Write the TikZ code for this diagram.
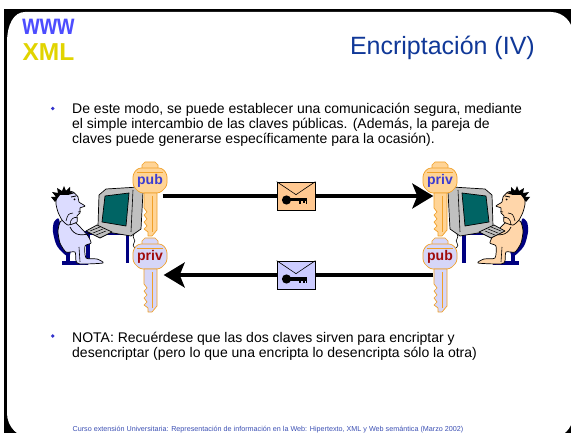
\documentclass[tikz,border=0pt]{standalone}
\usepackage{fontspec}
\setmainfont{Liberation Sans}
\usepackage{graphicx}
\usetikzlibrary{arrows.meta,calc}

\definecolor{titleblue}{RGB}{16,56,152}
\definecolor{bulletblue}{RGB}{51,51,204}
\definecolor{footblue}{RGB}{60,80,180}
\definecolor{logoblue}{RGB}{77,77,255}
\definecolor{logoyellow}{RGB}{225,212,0}
\definecolor{keyorange}{RGB}{255,212,150}
\definecolor{keyline}{RGB}{240,160,40}
\definecolor{keylilac}{RGB}{214,214,248}
\definecolor{pubblue}{RGB}{60,60,210}
\definecolor{privred}{RGB}{160,10,10}
\definecolor{envorange}{RGB}{255,200,145}
\definecolor{envlilac}{RGB}{204,204,255}
\definecolor{chairnavy}{RGB}{0,0,128}
\definecolor{screenteal}{RGB}{0,100,100}
\definecolor{monitorgray}{RGB}{192,192,192}
\definecolor{skinlilac}{RGB}{220,220,255}
\definecolor{skinpeach}{RGB}{255,214,170}

\tikzset{
  keypart/.style={draw=keyline, line width=0.7pt, line join=round},
  keyshaft/.style={inner sep=0pt, minimum width=14pt, minimum height=40pt},
  keylabel/.style={inner sep=0pt, font=\bfseries\fontsize{14}{14}\selectfont},
  envbox/.style={draw=black, line width=0.7pt, inner sep=0pt, minimum width=38pt, minimum height=28pt},
  msgarrow/.style={line width=3.5pt},
  bodyline/.style={font=\fontsize{14}{15}\selectfont, anchor=base west, inner sep=0pt},
  outline/.style={draw=black, line width=0.7pt, line join=round},
}

% a key: name of the shaft node, x, y of the top, fill, label, label colour
\newcommand\slidekey[6]{%
  \begin{scope}[shift={(#2,#3)}]
    \path[keypart, fill=#4] (-8,9) -- (-8,3) -- (-5,0) -- (5,0) -- (8,3) -- (8,9) -- cycle;
    \path[keypart, fill=#4, rounded corners=3pt] (-12,6) -- (12,6) -- (17,12) -- (17,24)
      -- (10,31) -- (-10,31) -- (-17,24) -- (-17,12) -- cycle;
    \path[keypart, fill=#4] (-6,31) -- (7,31) -- (7,68) -- (2,74) -- (-2,74) -- (-2,70)
      -- (-6,67) -- (-3,64) -- (-6,60) -- (-3,57) -- (-6,53) -- (-3,50) -- (-6,46) -- cycle;
    \draw[keyline, line width=0.6pt] (-13,10) -- (13,10);
    \draw[keyline, line width=0.6pt] (2,34) -- (2,70);
    \node[keyshaft] (#1) at (0.5,51) {};
    \node[keylabel, text=#6] at (0,19) {#5};
  \end{scope}}

% a sealed envelope with a key on it: name, x, y, fill
\newcommand\slideenvelope[4]{%
  \node[envbox, fill=#4] (#1) at (#2,#3) {};
  \draw[line width=0.6pt] (#1.north west) -- ($(#1.north)+(0,13)$) -- (#1.north east);
  \fill ($(#1.center)+(-9.5,4)$) circle (4.6pt);
  \fill ($(#1.center)+(-6,2.5)$) rectangle ($(#1.center)+(11,5.5)$);
  \fill ($(#1.center)+(3,5)$) rectangle ($(#1.center)+(5,8)$);
  \fill ($(#1.center)+(7,5)$) rectangle ($(#1.center)+(9,7.5)$);
  \fill ($(#1.center)+(10,5)$) rectangle ($(#1.center)+(11,8)$);
}

% desk, monitor and seated figure facing right: skin colour, shift of the figure
\newcommand\workstation[2]{%
  % desk
  \fill[chairnavy] (84,231) rectangle (130,235.5);
  \fill[chairnavy] (86,235) rectangle (89.5,263);
  \fill[chairnavy] (125.5,235) rectangle (129,263);
  \begin{scope}[xshift=#2]
    % chair
    \fill[chairnavy] plot[smooth cycle, tension=0.5] coordinates
      {(54,222) (59,219) (62,236) (71,251) (67,256) (57,246) (53,232)};
    \fill[chairnavy] (66,250) rectangle (70,263);
    \fill[chairnavy] (62,261) rectangle (88,265);
    % body
    \path[outline, fill=#1] plot[smooth cycle, tension=0.4] coordinates
      {(61,221) (73,221) (81,228) (88,236) (91,243) (85,246) (86,258) (97,259)
       (103,263) (80,264) (76,261) (75,252) (66,252) (60,243) (58,231)};
    \draw[line width=0.7pt] (70,227) .. controls (74,236) and (82,236) .. (91,233);
    \draw[line width=0.6pt] (79,247) -- (80,262);
    % head
    \path[outline, fill=#1] plot[smooth cycle, tension=0.4] coordinates
      {(57,197) (64,191) (73,192) (78,197) (79,202) (85,206) (80,208) (80,213)
       (77,216) (77,222) (68,225) (62,220) (58,212) (56,204)};
    \draw[line width=0.6pt] (70,225) .. controls (70,219) and (74,216) .. (78,218);
    \draw[line width=0.6pt] (66,221) .. controls (68,214) .. (73,213);
    % hair and face
    \fill[black] (55,202) -- (51,197) -- (56,197) -- (52,192) -- (58,193) -- (57,188)
      -- (62,191) -- (64,186) -- (66,191) -- (70,187) -- (70,192) -- (75,193)
      -- (68,195) -- (60,195) -- (57,199) -- cycle;
    \draw[line width=0.8pt] (71,197) -- (76,196);
    \fill (74.5,199.5) circle (1pt);
    \draw[line width=0.6pt] (78,212) -- (80.5,211.5);
  \end{scope}
  % monitor
  \path[outline, fill=monitorgray] (99,195) -- (106,189) -- (139,187) -- (143,192)
    -- (141,229) -- (131,236) -- (101,231) -- (98,226) -- cycle;
  \path[outline, fill=screenteal] (105,196) -- (129,193) -- (126,226) -- (102,222) -- cycle;
  \draw[line width=0.6pt] (133,190) -- (131,232);
  % keyboard
  \path[outline, fill=black!25] (86,231) -- (97,225) -- (112,232) -- (100,238) -- cycle;
  \draw[line width=0.5pt] (90,231) -- (100,227) (93,233) -- (103,229) (96,235) -- (106,231);
  % cable
  \draw[line width=0.6pt] (134,234) .. controls (131,238) and (137,240) .. (134,243)
    .. controls (131,246) and (136,250) .. (140,249);
}

\begin{document}
\begin{tikzpicture}[x=1pt, y=-1pt]
  \useasboundingbox (0,0) rectangle (571,433);
  \clip (0,0) rectangle (571,433);
  \fill[white] (0,0) rectangle (571,433);

  % slide frame
  \fill[black] (4,9) rectangle (576,440);
  \fill[white] (7,43) .. controls (7,24) and (14,12) .. (25,12) -- (551,12)
    .. controls (563,12) and (573,22) .. (573,34) -- (573,416)
    .. controls (573,428) and (563,438) .. (551,438) -- (32,438)
    .. controls (18,438) and (7,427) .. (7,413) -- cycle;

  % logo
  \node[inner sep=0pt, anchor=base, text height=15pt, text depth=0pt, text=logoblue,
        font=\bfseries\fontsize{29}{29}\selectfont] (logow)
    at (48.5,34.5) {\scalebox{0.77}[1]{www}};
  \node[inner sep=0pt, anchor=base, text height=17pt, text depth=0pt, text=logoyellow,
        font=\bfseries\fontsize{24.5}{25}\selectfont] (logox)
    at (48.5,61) {\scalebox{1.0}[1]{XML}};

  % title
  \node[anchor=base east, inner sep=0pt, text=titleblue, font=\fontsize{25}{30}\selectfont]
    (title) at (535,55) {Encriptación (IV)};

  % first bullet
  \fill[bulletblue] (52.7,108.5) circle (1.9pt);
  \node[bodyline] (p1a) at (72,114) {De este modo, se puede establecer una comunicación segura, mediante};
  \node[bodyline] (p1b) at (72,129) {el simple intercambio de las claves públicas. (Además, la pareja de};
  \node[bodyline] (p1c) at (72,144) {claves puede generarse específicamente para la ocasión).};

  % the two workstations
  \workstation{skinlilac}{0pt}
  \begin{scope}[xshift=591pt, xscale=-1]
    \workstation{skinpeach}{10pt}
  \end{scope}

  % keys
  \slidekey{pubL}{150}{162}{keyorange}{pub}{pubblue}
  \slidekey{privL}{150}{238}{keylilac}{priv}{privred}
  \slidekey{privR}{440}{162}{keyorange}{priv}{pubblue}
  \slidekey{pubR}{440}{238}{keylilac}{pub}{privred}

  % envelopes
  \slideenvelope{envA}{296}{196}{envorange}
  \slideenvelope{envB}{296}{275}{envlilac}

  % message arrows
  \draw[msgarrow, shorten <=5pt] (pubL.east |- envA) -- (envA.west);
  \draw[msgarrow, -{Stealth[length=21pt, width=25pt, inset=5pt]}] (envA.east) -- (privR.west |- envA);
  \draw[msgarrow] (pubR.west |- envB) -- (envB.east);
  \draw[msgarrow, shorten >=6pt, -{Stealth[length=21pt, width=25pt, inset=5pt]}] (envB.west) -- (privL.east |- envB);

  % second bullet
  \fill[bulletblue] (52.7,336) circle (1.9pt);
  \node[bodyline] (p2a) at (72,342) {NOTA: Recuérdese que las dos claves sirven para encriptar y};
  \node[bodyline] (p2b) at (72,357) {desencriptar (pero lo que una encripta lo desencripta sólo la otra)};

  % footer
  \node[anchor=base, inner sep=0pt, text=footblue, font=\fontsize{7.2}{8}\selectfont] (foot)
    at (268,431) {Curso extensión Universitaria: Representación de información en la Web: Hipertexto, XML y Web semántica (Marzo 2002)};
\end{tikzpicture}
\end{document}
